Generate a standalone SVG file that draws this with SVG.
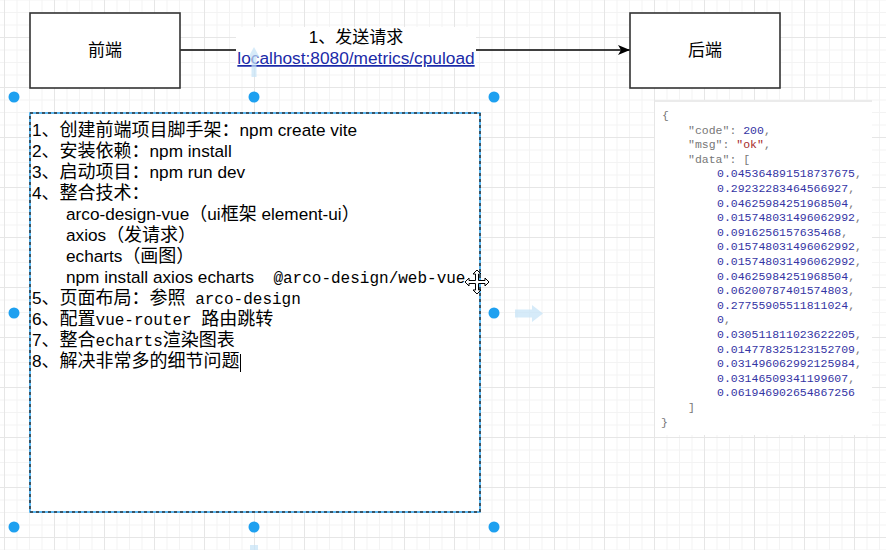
<svg xmlns="http://www.w3.org/2000/svg" width="886" height="550" viewBox="0 0 886 550">
<defs>
<pattern id="grid" patternUnits="userSpaceOnUse" x="4" y="37" width="50" height="50">
<rect x="0" y="0" width="50" height="50" fill="#ffffff"/>
<g fill="#f3f3f3">
<rect x="12.5" y="0" width="1" height="50"/><rect x="25" y="0" width="1" height="50"/><rect x="37.5" y="0" width="1" height="50"/>
<rect x="0" y="12.5" width="50" height="1"/><rect x="0" y="25" width="50" height="1"/><rect x="0" y="37.5" width="50" height="1"/>
</g>
<g fill="#e6e6e6"><rect x="0" y="0" width="1" height="50"/><rect x="0" y="0" width="50" height="1"/></g>
</pattern>
<marker id="arr" viewBox="0 0 12 10" refX="12" refY="5" markerWidth="12" markerHeight="10" markerUnits="userSpaceOnUse" orient="auto">
<path d="M0,0 L12,5 L0,10 L3,5 Z" fill="#000"/>
</marker>
<style>
.box{fill:#fff;stroke:#333;stroke-width:1.6}
.lbl{font-family:"Liberation Sans","Noto Sans CJK SC",sans-serif;font-size:17px;fill:#000}
.main{font-family:"Liberation Sans","Noto Sans CJK SC",sans-serif;font-size:18px;fill:#000}
.l{font-size:17.2px}
.mono{font-family:"Liberation Mono","Noto Sans CJK SC",monospace;font-size:16px}
.json{font-family:"Liberation Mono","DejaVu Sans Mono",monospace;font-size:11.5px;fill:#777}
.num{fill:#3434a4}
.str{fill:#a82a2a}
.dot{fill:#1ea0f0}
.hint{fill:#c5e2f7;opacity:0.7}
</style>
</defs>
<rect x="0" y="0" width="886" height="550" fill="url(#grid)"/>

<g id="connectors">
<line x1="180" y1="50" x2="630" y2="50" stroke="#000" stroke-width="1.5" marker-end="url(#arr)"/>
<g id="edge-label">
<rect x="236" y="27" width="240" height="41" fill="#fff"/>
<text class="lbl" x="356" y="43" text-anchor="middle">1、发送请求</text>
<text class="lbl" x="356" y="64" text-anchor="middle" style="fill:#1a2aa8;font-size:17.3px" text-decoration="underline">localhost:8080/metrics/cpuload</text>
</g>
</g>

<g id="frontend">
<rect class="box" x="30" y="13" width="150" height="75"/>
<text class="lbl" x="105" y="56" text-anchor="middle">前端</text>
</g>

<g id="backend">
<rect class="box" x="630" y="13" width="150" height="75"/>
<text class="lbl" x="705" y="56" text-anchor="middle">后端</text>
</g>

<g id="steps">
<rect x="30" y="113" width="450" height="399" fill="#fff" stroke="#29a3f0" stroke-width="1.5"/>
<rect x="30" y="113" width="450" height="399" fill="none" stroke="#333" stroke-width="1.5" stroke-dasharray="3 3"/>
<text class="main" x="32" y="136"><tspan class="l">1</tspan>、创建前端项目脚手架：<tspan class="l">npm create vite</tspan></text>
<text class="main" x="32" y="157"><tspan class="l">2</tspan>、安装依赖：<tspan class="l">npm install</tspan></text>
<text class="main" x="32" y="178"><tspan class="l">3</tspan>、启动项目：<tspan class="l">npm run dev</tspan></text>
<text class="main" x="32" y="199"><tspan class="l">4</tspan>、整合技术：</text>
<text class="main" x="66" y="220"><tspan class="l">arco-design-vue</tspan>（<tspan class="l">ui</tspan>框架<tspan class="l"> element-ui</tspan>）</text>
<text class="main" x="66" y="241"><tspan class="l">axios</tspan>（发请求）</text>
<text class="main" x="66" y="262"><tspan class="l">echarts</tspan>（画图）</text>
<text class="main" x="66" y="283" xml:space="preserve"><tspan class="l">npm install axios echarts</tspan><tspan class="mono">  @arco-design/web-vue</tspan></text>
<text class="main" x="32" y="304"><tspan class="l">5</tspan>、页面布局：参照<tspan class="mono" xml:space="preserve"> arco-design</tspan></text>
<text class="main" x="32" y="325"><tspan class="l">6</tspan>、配置<tspan class="mono" xml:space="preserve">vue-router </tspan>路由跳转</text>
<text class="main" x="32" y="346"><tspan class="l">7</tspan>、整合<tspan class="mono">echarts</tspan>渲染图表</text>
<text class="main" x="32" y="367"><tspan class="l">8</tspan>、解决非常多的细节问题</text>
<line x1="240.5" y1="354" x2="240.5" y2="372" stroke="#000" stroke-width="1"/>
</g>

<g id="json-panel">
<rect x="655" y="100" width="217" height="335" fill="#fff"/>
<rect x="655" y="100" width="217" height="2" fill="#ebebeb"/>
<text class="json" x="662" y="119">{</text>
<text class="json" x="688" y="133.6">"code": <tspan class="num">200</tspan>,</text>
<text class="json" x="688" y="148.2">"msg": <tspan class="str">"ok"</tspan>,</text>
<text class="json" x="688" y="162.8">"data": [</text>
<g class="json">
<text x="717" y="177.4"><tspan class="num">0.045364891518737675</tspan>,</text>
<text x="717" y="192"><tspan class="num">0.29232283464566927</tspan>,</text>
<text x="717" y="206.6"><tspan class="num">0.04625984251968504</tspan>,</text>
<text x="717" y="221.2"><tspan class="num">0.015748031496062992</tspan>,</text>
<text x="717" y="235.8"><tspan class="num">0.0916256157635468</tspan>,</text>
<text x="717" y="250.4"><tspan class="num">0.015748031496062992</tspan>,</text>
<text x="717" y="265"><tspan class="num">0.015748031496062992</tspan>,</text>
<text x="717" y="279.6"><tspan class="num">0.04625984251968504</tspan>,</text>
<text x="717" y="294.2"><tspan class="num">0.06200787401574803</tspan>,</text>
<text x="717" y="308.8"><tspan class="num">0.27755905511811024</tspan>,</text>
<text x="717" y="323.4"><tspan class="num">0</tspan>,</text>
<text x="717" y="338"><tspan class="num">0.030511811023622205</tspan>,</text>
<text x="717" y="352.6"><tspan class="num">0.014778325123152709</tspan>,</text>
<text x="717" y="367.2"><tspan class="num">0.031496062992125984</tspan>,</text>
<text x="717" y="381.8"><tspan class="num">0.03146509341199607</tspan>,</text>
<text x="717" y="396.4"><tspan class="num">0.061946902654867256</tspan></text>
</g>
<text class="json" x="688" y="411">]</text>
<text class="json" x="661" y="425.6">}</text>
</g>

<g id="selection-handles">
<circle class="dot" cx="14" cy="97" r="5.5"/>
<circle class="dot" cx="254" cy="97" r="5.5"/>
<circle class="dot" cx="494" cy="97" r="5.5"/>
<circle class="dot" cx="14" cy="313" r="5.5"/>
<circle class="dot" cx="494" cy="313" r="5.5"/>
<circle class="dot" cx="14" cy="527" r="5.5"/>
<circle class="dot" cx="254" cy="527" r="5.5"/>
<circle class="dot" cx="494" cy="527" r="5.5"/>
<path class="hint" d="M254,47 L259.5,57 L256.5,57 L256.5,77 L251.5,77 L251.5,57 L248.5,57 Z"/>
<path class="hint" d="M515,309.5 L532,309.5 L532,305 L543,313.5 L532,322 L532,317.5 L515,317.5 Z"/>
<path class="hint" d="M250,545 L258,545 L258,556 L254,560 L250,556 Z"/>
<path d="M477,270 L481,274 L478.5,274 L478.5,280.5 L485,280.5 L485,278 L489,282 L485,286 L485,283.5 L478.5,283.5 L478.5,290 L481,290 L477,294 L473,290 L475.5,290 L475.5,283.5 L469,283.5 L469,286 L465,282 L469,278 L469,280.5 L475.5,280.5 L475.5,274 L473,274 Z" fill="#fff" stroke="#000" stroke-width="1"/>
</g>
</svg>
